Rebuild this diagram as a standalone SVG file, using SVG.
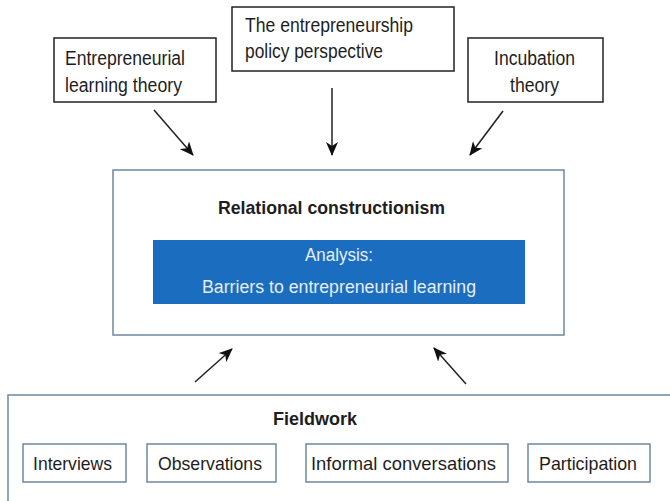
<svg xmlns="http://www.w3.org/2000/svg" width="670" height="501" viewBox="0 0 670 501">
<style>
text{font-family:"Liberation Sans",Arial,sans-serif;fill:#1e1e1e}
.b{font-weight:bold}
.t{font-size:20px}
.s{font-size:19px}
.dark{fill:#fff;stroke:#222;stroke-width:1.5}
.slate{fill:#fff;stroke:#6f86a1;stroke-width:1.5}
.conn line{stroke:#222;stroke-width:1.5;marker-end:url(#ah)}
</style>
<defs>
<marker id="ah" viewBox="0 0 14 12" refX="13" refY="6" markerWidth="14" markerHeight="12" markerUnits="userSpaceOnUse" orient="auto">
<path d="M0,0 L14,6 L0,12 L4,6 z" fill="#111"/>
</marker>
</defs>
<rect width="670" height="501" fill="#fff"/>
<g id="learning">
<rect class="dark" x="54" y="38" width="162" height="64"/>
<text class="t" x="65" y="65" textLength="120" lengthAdjust="spacingAndGlyphs">Entrepreneurial</text>
<text class="t" x="65" y="92" textLength="117" lengthAdjust="spacingAndGlyphs">learning theory</text>
</g>
<g id="policy">
<rect class="dark" x="232" y="7" width="222" height="64"/>
<text class="t" x="245" y="32" textLength="168" lengthAdjust="spacingAndGlyphs">The entrepreneurship</text>
<text class="t" x="245" y="58" textLength="138" lengthAdjust="spacingAndGlyphs">policy perspective</text>
</g>
<g id="incubation">
<rect class="dark" x="468" y="38" width="135" height="64"/>
<text class="t" x="494" y="65" textLength="81" lengthAdjust="spacingAndGlyphs">Incubation</text>
<text class="t" x="510" y="92" textLength="49" lengthAdjust="spacingAndGlyphs">theory</text>
</g>
<g id="relational">
<rect class="slate" x="113" y="170" width="451" height="165"/>
<text class="b" x="218" y="214" font-size="18" textLength="227" lengthAdjust="spacingAndGlyphs">Relational constructionism</text>
<g id="analysis">
<rect x="153" y="240" width="372" height="64" fill="#1b6dbf"/>
<text x="305" y="261" font-size="18" textLength="68" lengthAdjust="spacingAndGlyphs" style="fill:#e6edf5">Analysis:</text>
<text x="202" y="293" font-size="18" textLength="274" lengthAdjust="spacingAndGlyphs" style="fill:#e6edf5">Barriers to entrepreneurial learning</text>
</g>
</g>
<g id="fieldwork">
<rect class="slate" x="8" y="395" width="680" height="130"/>
<text class="b" x="273" y="425" font-size="18" textLength="84" lengthAdjust="spacingAndGlyphs">Fieldwork</text>
</g>
<g id="interviews">
<rect class="slate" x="23" y="444" width="103" height="38"/>
<text class="s" x="33" y="470" textLength="79" lengthAdjust="spacingAndGlyphs">Interviews</text>
</g>
<g id="observations">
<rect class="slate" x="147" y="444" width="129" height="38"/>
<text class="s" x="158" y="470" textLength="104" lengthAdjust="spacingAndGlyphs">Observations</text>
</g>
<g id="informal">
<rect class="slate" x="306" y="444" width="202" height="38"/>
<text class="s" x="311" y="470" textLength="185" lengthAdjust="spacingAndGlyphs">Informal conversations</text>
</g>
<g id="participation">
<rect class="slate" x="528" y="444" width="122" height="38"/>
<text class="s" x="539" y="470" textLength="98" lengthAdjust="spacingAndGlyphs">Participation</text>
</g>
<g id="connectors" class="conn">
<line x1="154" y1="110" x2="193" y2="155"/>
<line x1="332" y1="88" x2="332" y2="155"/>
<line x1="503" y1="111" x2="470" y2="155"/>
<line x1="195" y1="382" x2="232" y2="349"/>
<line x1="466" y1="384" x2="434" y2="348"/>
</g>
</svg>
